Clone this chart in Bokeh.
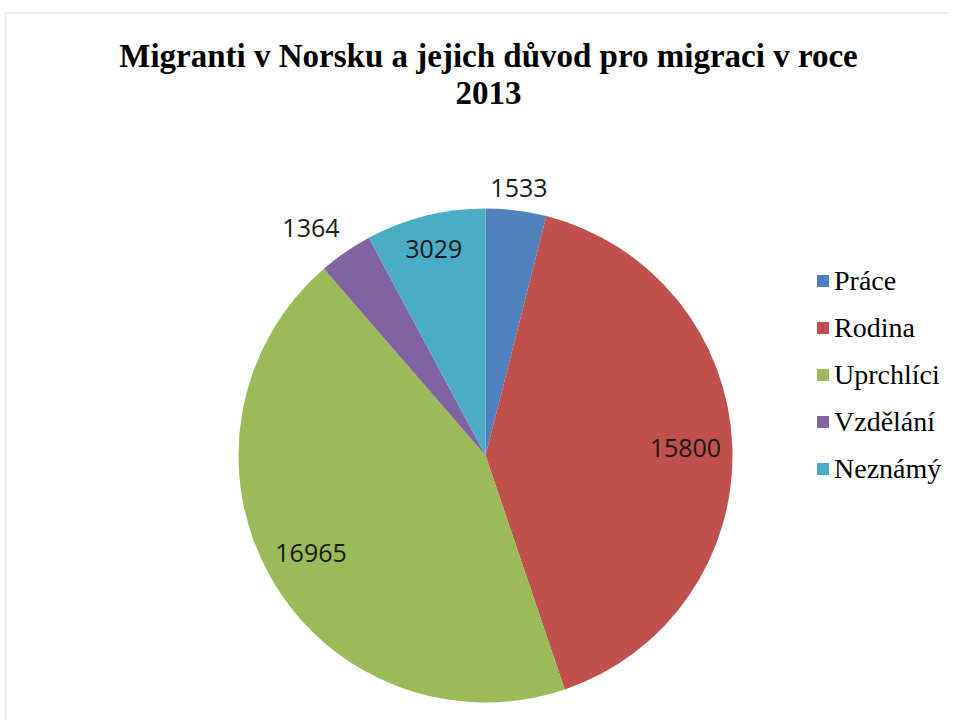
import math
from bokeh.plotting import figure
from bokeh.models import Range1d, Label, Legend, LegendItem, BoxAnnotation, ColumnDataSource
from bokeh.embed import file_html
from bokeh.resources import INLINE

# ---- data ----
categories = ["Práce", "Rodina", "Uprchlíci", "Vzdělání", "Neznámý"]
counts = [1533, 15800, 16965, 1364, 3029]
colors = ["#4F81BD", "#C0504D", "#9BBB59", "#8064A2", "#4BACC6"]
title_lines = ["Migranti v Norsku a jejich důvod pro migraci v roce", "2013"]

# ---- style / layout ----
label_radius_factor = [1.09, 0.81, 0.81, 1.16, 0.86]
label_angle_offset_deg = [0.0, 0.0, 0.5, -3.0, 0.0]
W, H = 949, 720
PH = 728  # picture height; data y = PH - picture y
CX, CY, R = 485, PH - 455, 247

total = float(sum(counts))
cum = [0.0]
for c in counts:
    cum.append(cum[-1] + c / total)
starts = [math.pi / 2 - 2 * math.pi * cum[i] for i in range(len(counts))]
ends = [math.pi / 2 - 2 * math.pi * cum[i + 1] for i in range(len(counts))]

src = ColumnDataSource(dict(cat=categories, val=counts, color=colors,
                            start=starts, end=ends))

p = figure(width=W, height=H, output_backend="svg", toolbar_location=None,
           x_range=Range1d(0, W), y_range=Range1d(PH - H, PH),
           min_border=0, tools="")
p.axis.visible = False
p.grid.visible = False
p.outline_line_color = None
p.background_fill_color = "white"
p.border_fill_color = "white"

# outer frame (light blue)
p.add_layout(BoxAnnotation(left=5, right=3000, top=PH - 12.5, bottom=-1000,
                           fill_color=None, line_color="#A7BFE6", line_width=2))

wr = p.wedge(x=CX, y=CY, radius=R, start_angle="start", end_angle="end",
             direction="clock", fill_color="color", line_color=None, source=src)

# data labels
for i, v in enumerate(counts):
    mid = (cum[i] + cum[i + 1]) / 2
    th = math.pi / 2 - 2 * math.pi * mid - math.radians(label_angle_offset_deg[i])
    f = label_radius_factor[i]
    p.add_layout(Label(x=CX + f * R * math.cos(th), y=CY + f * R * math.sin(th),
                       text=str(v), text_align="center", text_baseline="middle",
                       text_font="Open Sans", text_font_size="25px",
                       text_color="#1a1a1a"))

# title
for t, yy in zip(title_lines, [55, 92]):
    p.add_layout(Label(x=488, y=PH - yy, text=t, text_align="center",
                       text_baseline="middle", text_font="Liberation Serif",
                       text_font_style="bold", text_font_size="33px",
                       text_color="black"))

legend = Legend(items=[LegendItem(label=c, renderers=[wr], index=i)
                       for i, c in enumerate(categories)],
                location=(815, H - 492), orientation="vertical",
                glyph_width=15, glyph_height=15, label_height=47,
                label_standoff=4, spacing=0, padding=0, margin=0,
                border_line_color=None, background_fill_alpha=0,
                label_text_font="Liberation Serif", label_text_font_size="28px",
                label_text_color="black")
p.add_layout(legend)

open("out.html", "w").write(file_html(p, INLINE))
